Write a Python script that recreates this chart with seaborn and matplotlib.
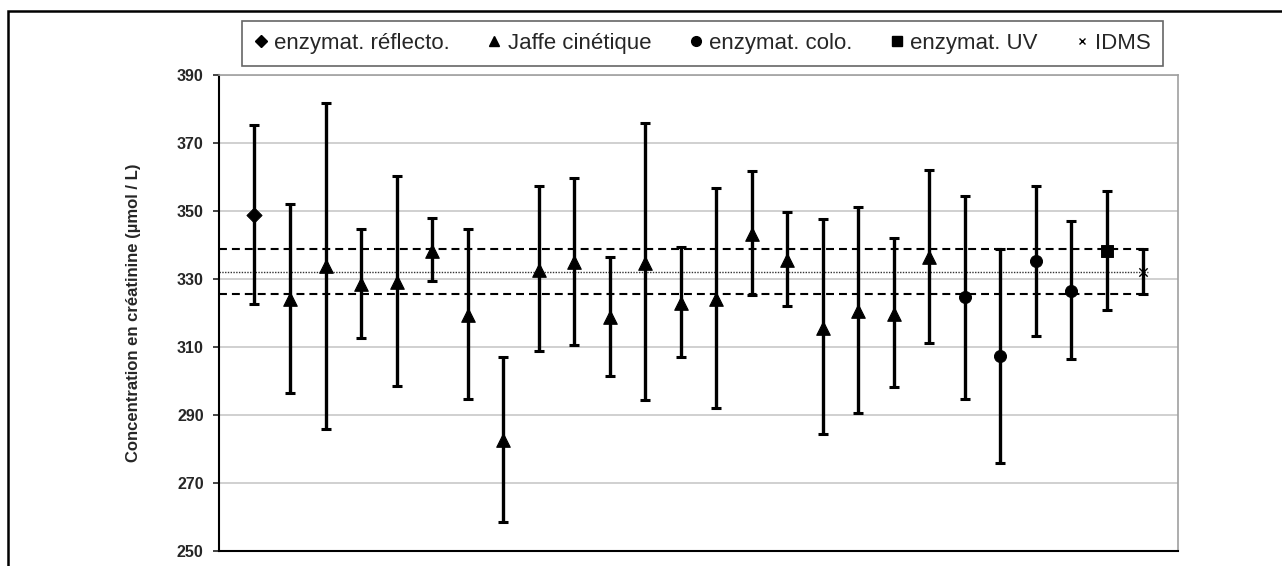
import numpy as np
import pandas as pd
import seaborn as sns
import matplotlib.pyplot as plt
from matplotlib.lines import Line2D
from matplotlib.patches import Rectangle

# ======| Données |======

methodes = (
    ["enzymat. réflecto."]
    + ["Jaffe cinétique"] * 19
    + ["enzymat. colo."] * 4
    + ["enzymat. UV"]
    + ["IDMS"]
)

moyennes = [348.7, 324.0, 333.9, 328.5, 329.0, 338.3, 319.4, 282.5, 332.7, 334.9,
            318.7, 334.7, 323.0, 324.1, 343.2, 335.7, 315.7, 320.5, 319.8, 336.6,
            324.8, 307.3, 335.2, 326.6, 338.3, 332.1]

hauts = [375.3, 352.0, 381.8, 344.6, 360.2, 347.9, 344.7, 307.2, 357.3, 359.8,
         336.4, 376.0, 339.3, 356.8, 361.7, 349.8, 347.6, 351.3, 342.0, 362.2,
         354.5, 338.8, 357.3, 347.0, 355.9, 338.7]

bas = [322.5, 296.5, 286.0, 312.5, 298.5, 329.3, 294.7, 258.6, 308.8, 310.5,
       301.4, 294.5, 307.0, 292.2, 325.4, 322.2, 284.4, 290.6, 298.3, 311.1,
       294.8, 276.0, 313.1, 306.4, 320.8, 325.7]

legende = ["enzymat. réflecto.", "Jaffe cinétique", "enzymat. colo.", "enzymat. UV", "IDMS"]
marqueurs = {"enzymat. réflecto.": "D", "Jaffe cinétique": "^", "enzymat. colo.": "o",
             "enzymat. UV": "s", "IDMS": "x"}
tailles = {"enzymat. réflecto.": 60, "Jaffe cinétique": 95, "enzymat. colo.": 75,
           "enzymat. UV": 70, "IDMS": 36}

graduations = list(range(250, 391, 20))

dados = pd.DataFrame({
    "labo": np.arange(1, len(moyennes) + 1),
    "methode": methodes,
    "moyenne": moyennes,
    "haut": hauts,
    "bas": bas,
})

sns.set_style("white")
plt.rcParams["font.family"] = ["Liberation Sans", "DejaVu Sans"]

fig = plt.figure(figsize=(12.82, 5.66), dpi=100)
ax = fig.add_axes([0.1708, 0.0265, 0.7481, 0.8410])

# ======| Barres d'incertitude |======

ax.errorbar(
    dados["labo"], dados["moyenne"],
    yerr=[dados["moyenne"] - dados["bas"], dados["haut"] - dados["moyenne"]],
    fmt="none", ecolor="black", elinewidth=2.4, capsize=3.8, capthick=2.2, zorder=3,
)

for methode in legende:
    sous = dados[dados["methode"] == methode]
    if methode == "IDMS":
        sns.scatterplot(data=sous, x="labo", y="moyenne", marker="x", s=tailles[methode],
                        color="black", linewidth=1.0, ax=ax, zorder=4, legend=False)
    else:
        sns.scatterplot(data=sous, x="labo", y="moyenne", marker=marqueurs[methode],
                        s=tailles[methode], color="black", edgecolor="black",
                        ax=ax, zorder=4, legend=False)

# ======| Valeur IDMS et son incertitude |======

idms = dados[dados["methode"] == "IDMS"].iloc[0]
fin = len(dados) + 0.15
ax.hlines([idms["haut"], idms["bas"]], 0, fin, colors="black", lw=1.5,
          linestyles=(0, (3.8, 2.4)), zorder=2)
ax.hlines(idms["moyenne"], 0, fin, colors="#333333", lw=1.0,
          linestyles=(0, (1, 1)), zorder=2)

ax.set_xlim(0, len(dados) + 1)
ax.set_ylim(250, 390)
ax.set_xticks([])
ax.set_yticks(graduations)
ax.set_yticklabels([str(g) for g in graduations], fontsize=11.5, fontweight="bold")
ax.tick_params(axis="y", direction="out", length=4, width=1.2, pad=7, left=True)
ax.yaxis.grid(True, color="#c8c8c8", lw=1.2)
ax.set_axisbelow(True)
ax.set_xlabel("")
ax.set_ylabel("Concentration en créatinine (µmol / L)", fontsize=12,
              fontweight="bold", labelpad=26)

for cote in ["left", "bottom"]:
    ax.spines[cote].set_color("black")
    ax.spines[cote].set_linewidth(1.5)
for cote in ["top", "right"]:
    ax.spines[cote].set_color("#a0a0a0")
    ax.spines[cote].set_linewidth(1.2)

# ======| Légende |======

poignees = [
    Line2D([], [], ls="none", marker=marqueurs[m], color="black",
           ms=6 if m == "enzymat. réflecto." else (5 if m == "IDMS" else 7),
           mew=1.0 if m == "IDMS" else 1)
    for m in legende
]
leg = fig.legend(
    poignees, legende, ncol=5, loc="center",
    bbox_to_anchor=(0.1888, 0.8816, 0.7184, 0.0831), mode="expand",
    fontsize=16, frameon=True, fancybox=False, edgecolor="#404040",
    handlelength=0.6, handletextpad=0.3, borderaxespad=0, borderpad=0.55,
)
leg.get_frame().set_linewidth(1.2)

# cadre extérieur
fig.patches.append(Rectangle((8 / 1282, -0.1), 1.2, 1.0806, transform=fig.transFigure,
                             fill=False, lw=1.8, ec="black"))

fig.savefig("out.png", dpi=100)
